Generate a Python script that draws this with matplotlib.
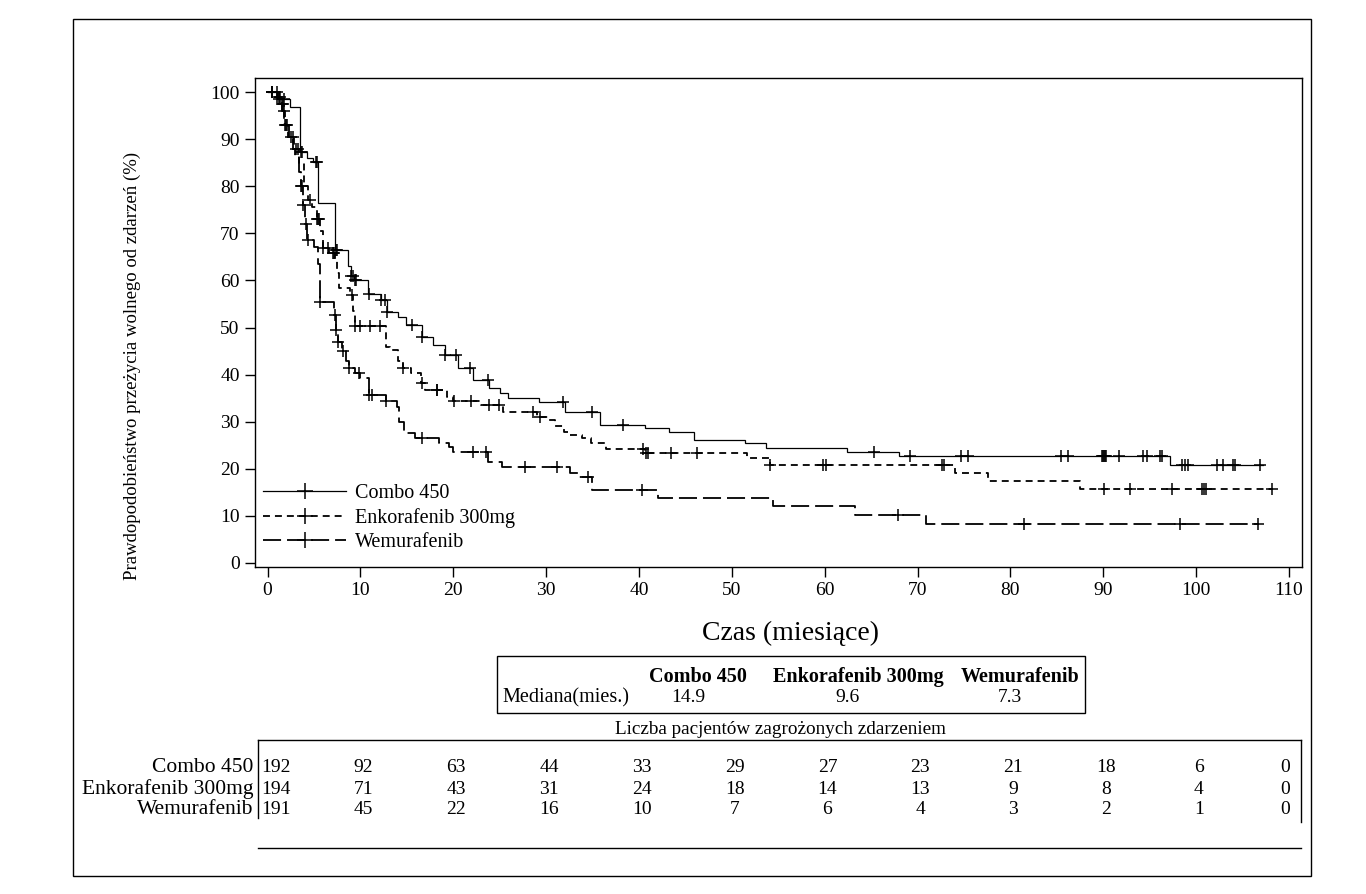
import numpy as np
import matplotlib
matplotlib.use("Agg")
import matplotlib.pyplot as plt
from matplotlib.lines import Line2D

plt.rcParams['font.family'] = ['Liberation Serif', 'DejaVu Serif']
plt.rcParams['lines.scale_dashes'] = False

# ---- dane ----
groups = ["Combo 450", "Enkorafenib 300mg", "Wemurafenib"]

combo_t = [0, 1.0, 2.4, 3.5, 4.2, 4.9, 5.4, 7.3, 8.7, 9.0, 9.3, 10.8, 12.2, 12.9,
           14.0, 14.9, 16.6, 17.8, 19.1, 20.5, 22.1, 23.8, 25.0, 25.9, 29.2, 32.0,
           35.8, 40.6, 43.2, 45.9, 51.4, 53.7, 62.4, 68.0, 97.2]
combo_s = [100, 98.5, 96.9, 87.3, 86.0, 85.2, 76.4, 66.5, 63.0, 61.0, 60.0, 57.2,
           55.8, 53.2, 52.3, 50.5, 48.0, 46.3, 44.2, 41.4, 38.9, 37.2, 36.0, 35.0,
           34.2, 32.0, 29.4, 28.7, 27.8, 26.1, 25.4, 24.5, 23.6, 22.7, 20.8]
combo_end = 107.2
combo_cens = [0.5, 1.2, 1.8, 3.6, 3.7, 5.2, 5.3, 7.4, 7.5, 9.0, 9.2, 9.4, 9.5, 10.9,
              12.2, 12.6, 12.9, 15.6, 16.6, 19.1, 20.3, 21.8, 23.7, 31.8, 34.9, 38.3,
              65.3, 69.2, 74.7, 75.4, 85.5, 86.2, 89.9, 90.0, 90.1, 90.2, 90.3, 91.7,
              94.3, 94.7, 96.1, 96.3, 98.5, 98.8, 99.1, 102.2, 102.9, 104.0, 104.2, 106.9]

enko_t = [0, 0.8, 1.5, 1.8, 2.2, 2.8, 3.4, 3.9, 4.4, 4.8, 5.3, 5.7, 6.0, 6.6, 7.3,
          7.5, 7.7, 8.9, 9.2, 9.4, 12.8, 13.2, 14.0, 14.6, 15.4, 16.5, 17.0, 19.3,
          20.0, 23.0, 25.4, 29.0, 30.2, 31.0, 31.9, 32.6, 33.9, 34.8, 36.4, 40.6,
          51.6, 54.1, 74.0, 77.6, 87.5]
enko_s = [100, 99.0, 97.5, 93.0, 90.5, 88.0, 85.0, 80.0, 77.0, 75.5, 73.0, 70.5,
          67.0, 65.8, 64.3, 61.5, 58.5, 57.0, 53.5, 50.3, 45.9, 45.2, 43.0, 41.4,
          40.3, 38.2, 36.7, 35.2, 34.3, 33.5, 32.1, 31.1, 30.4, 29.0, 27.9, 27.2,
          26.5, 25.5, 24.3, 23.3, 22.2, 20.8, 19.2, 17.5, 15.8]
enko_end = 108.2
enko_cens = [0.5, 1.0, 1.3, 1.6, 1.7, 2.5, 2.7, 3.1, 3.3, 4.6, 5.3, 5.4, 5.5, 6.0,
             6.5, 7.0, 7.2, 9.1, 9.4, 10.0, 11.0, 12.1, 14.6, 16.6, 18.2, 18.3, 20.1,
             21.9, 23.8, 24.9, 28.6, 29.3, 40.4, 40.8, 41.0, 43.5, 46.2, 54.1, 59.8,
             60.1, 72.6, 72.9, 90.1, 92.9, 97.4, 100.6, 100.8, 101.1, 108.2]

wemu_t = [0, 1.2, 1.6, 1.9, 2.3, 2.7, 3.0, 3.4, 3.6, 3.8, 4.0, 4.3, 5.0, 5.4, 5.6,
          7.2, 7.4, 7.6, 8.0, 8.4, 8.8, 9.4, 10.0, 10.9, 12.8, 13.9, 14.2, 14.7,
          15.9, 18.5, 19.5, 20.0, 23.7, 25.3, 32.6, 33.5, 34.9, 42.1, 54.4, 63.3, 70.9]
wemu_s = [100, 98.5, 96.0, 93.0, 90.5, 88.0, 86.0, 83.0, 80.0, 76.0, 72.0, 68.5,
          67.1, 63.5, 55.5, 52.7, 49.5, 47.0, 45.0, 43.0, 41.5, 40.3, 39.2, 35.7,
          34.3, 33.2, 30.0, 27.6, 26.6, 25.5, 24.7, 23.6, 21.5, 20.4, 19.2, 18.2,
          15.4, 13.8, 12.1, 10.2, 8.2]
wemu_end = 106.7
wemu_cens = [0.5, 1.0, 1.8, 1.9, 2.0, 2.1, 3.6, 3.7, 3.8, 4.1, 4.4, 5.6, 7.3, 7.4,
             7.6, 8.1, 8.8, 9.9, 10.9, 11.2, 12.8, 16.6, 22.1, 23.5, 27.7, 31.2,
             34.5, 40.3, 67.9, 81.5, 98.3, 106.7]

medians = ["14.9", "9.6", "7.3"]
risk_times = [0, 10, 20, 30, 40, 50, 60, 70, 80, 90, 100, 110]
risk_combo = [192, 92, 63, 44, 33, 29, 27, 23, 21, 18, 6, 0]
risk_enko = [194, 71, 43, 31, 24, 18, 14, 13, 9, 8, 4, 0]
risk_wemu = [191, 45, 22, 16, 10, 7, 6, 4, 3, 2, 1, 0]

W, H = 1366, 894
fig = plt.figure(figsize=(W / 100, H / 100), dpi=100)

# ramka zewnętrzna i elementy tekstowe w pikselach
ov = fig.add_axes([0, 0, 1, 1], zorder=0)
ov.set_xlim(0, W)
ov.set_ylim(H, 0)
ov.axis('off')
ov.add_patch(plt.Rectangle((73, 19), 1238, 857, fill=False, lw=1.0, ec='black'))

# ---- wykres KM ----
ax = fig.add_axes([255 / W, 1 - 567 / H, (1302 - 255) / W, (567 - 78) / H], zorder=2)
ax.set_xlim(-1.35, 111.4)
ax.set_ylim(-0.85, 103.0)

styles = [
    dict(ls='-', lw=0.9),
    dict(ls=(0, (5, 3.6)), lw=1.3),
    dict(ls=(0, (13, 4.3)), lw=1.3),
]
curves = [(combo_t, combo_s, combo_end, combo_cens),
          (enko_t, enko_s, enko_end, enko_cens),
          (wemu_t, wemu_s, wemu_end, wemu_cens)]

handles = []
for (t, s, end, cens), st, name in zip(curves, styles, groups):
    t = np.array(t)
    s = np.array(s)
    ax.step(np.append(t, end), np.append(s, s[-1]), where='post', color='black',
            solid_joinstyle='miter', **st)
    idx = np.searchsorted(t, cens, side='right') - 1
    ax.plot(cens, s[idx], ls='none', marker='+', ms=9, mew=1.1, color='black')
    handles.append(Line2D([], [], color='black', marker='+', ms=11, mew=1.1, **st))

ax.legend(handles, groups, loc='lower left', bbox_to_anchor=(0.004, 0.0225),
          frameon=False, numpoints=1, handlelength=4.1, handletextpad=0.45,
          labelspacing=0.25, fontsize=14.5, borderaxespad=0, borderpad=0.2)

ax.set_xticks(risk_times)
ax.set_yticks(range(0, 101, 10))
ax.tick_params(direction='out', length=7, width=1.0, labelsize=14, pad=4)
for sp in ax.spines.values():
    sp.set_linewidth(1.0)
ax.set_xlabel("Czas (miesiące)", fontsize=20)
ax.xaxis.set_label_coords(0.511, -0.11)
ax.set_ylabel("Prawdopodobieństwo przeżycia wolnego od zdarzeń (%)", fontsize=13.5)
ax.yaxis.set_label_coords(-0.109, 0.411)

# ---- tabela mediany ----
ov.add_patch(plt.Rectangle((497, 656), 588, 57, fill=False, lw=1.0, ec='black'))
col_x = [698, 858, 1020]
for x, g, m in zip(col_x, groups, medians):
    ov.text(x, 677, g, ha='center', va='center', fontsize=14.5, fontweight='bold')
    ov.text(x - 10, 698, m, ha='center', va='center', fontsize=14)
ov.text(502, 698, "Mediana(mies.)", ha='left', va='center', fontsize=14.5)
ov.text(780, 729, "Liczba pacjentów zagrożonych zdarzeniem", ha='center', va='center',
        fontsize=13.8)

# ---- tabela liczby pacjentów ----
tab = fig.add_axes([255 / W, 1 - 852 / H, (1302 - 255) / W, (852 - 735) / H], zorder=1)
tab.set_xlim(ax.get_xlim())
tab.set_ylim(852, 735)
tab.axis('off')
tab.plot([-1.0, 111.3], [740, 740], color='black', lw=1.0, clip_on=False)
tab.plot([-1.0, -1.0], [740, 818], color='black', lw=1.0, clip_on=False)
tab.plot([111.3, 111.3], [740, 822], color='black', lw=1.0, clip_on=False)
tab.plot([-1.0, 111.3], [848, 848], color='black', lw=1.0, clip_on=False)
rows_y = [767, 789, 810]
for y, g, vals in zip(rows_y, groups, [risk_combo, risk_enko, risk_wemu]):
    tab.text(-1.5, y, g, ha='right', va='center', fontsize=15.5, clip_on=False)
    for x, v in zip(risk_times, vals):
        if x == 0:
            xx = x + 0.9
        elif x == risk_times[-1]:
            xx = x - 0.4
        else:
            xx = x + 0.3
        tab.text(xx, y, str(v), ha='center', va='center', fontsize=14)

fig.savefig("out.png", dpi=100)
